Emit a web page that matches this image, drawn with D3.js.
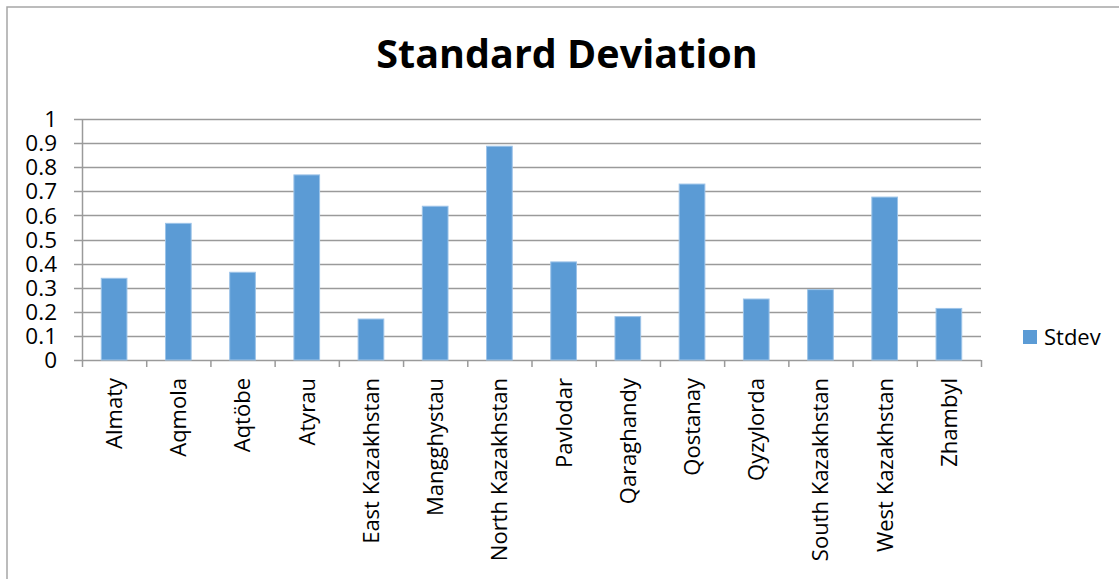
<!DOCTYPE html>
<html>
<head>
<meta charset="utf-8">
<script src="https://cdn.jsdelivr.net/npm/d3@7"></script>
<style>
  html, body { margin: 0; padding: 0; background: #fff; }
  svg { display: block; }
  text { font-family: "Open Sans", Lato, sans-serif; fill: #000; }
</style>
</head>
<body>
<svg id="chart" width="1119" height="579"></svg>
<script>
const categories = ["Almaty", "Aqmola", "Aqtöbe", "Atyrau", "East Kazakhstan", "Mangghystau",
  "North Kazakhstan", "Pavlodar", "Qaraghandy", "Qostanay", "Qyzylorda", "South Kazakhstan",
  "West Kazakhstan", "Zhambyl"];
const stdev = [0.339, 0.567, 0.364, 0.768, 0.170, 0.638, 0.887, 0.407, 0.180, 0.730, 0.253, 0.292, 0.676, 0.214];
const yTicks = [0, 0.1, 0.2, 0.3, 0.4, 0.5, 0.6, 0.7, 0.8, 0.9, 1];
const seriesName = "Stdev";
const title = "Standard Deviation";

const svg = d3.select("#chart");

// chart frame
svg.append("rect")
  .attr("x", 7).attr("y", 7).attr("width", 1130).attr("height", 600)
  .attr("fill", "none").attr("stroke", "#a6a6a6").attr("stroke-width", 1.5);

const plot = { left: 82, right: 981, top: 119, bottom: 360 };

const x = d3.scaleBand().domain(categories)
  .range([plot.left, plot.right]).paddingInner(0.6).paddingOuter(0.3);
const y = d3.scaleLinear().domain([0, 1]).range([plot.bottom, plot.top]);

// gridlines
svg.append("g").selectAll("line").data(yTicks).join("line")
  .attr("x1", plot.left - 8).attr("x2", plot.right)
  .attr("y1", d => Math.round(y(d)) + 0.5).attr("y2", d => Math.round(y(d)) + 0.5)
  .attr("stroke", "#9a9a9a").attr("stroke-width", 1.5);

// y axis line
svg.append("line")
  .attr("x1", plot.left + 0.5).attr("x2", plot.left + 0.5)
  .attr("y1", plot.top).attr("y2", plot.bottom)
  .attr("stroke", "#9a9a9a").attr("stroke-width", 1.5);

// y tick labels
svg.append("g").selectAll("text").data(yTicks).join("text")
  .attr("x", 57).attr("y", d => y(d))
  .attr("dy", "0.36em")
  .attr("text-anchor", "end")
  .attr("font-size", 22.5)
  .text(d => d3.format("~g")(d));

// x axis category tick marks
const step = x.step();
const bounds = d3.range(categories.length + 1).map(i => plot.left + i * step);
svg.append("g").selectAll("line").data(bounds).join("line")
  .attr("x1", d => d + 0.5).attr("x2", d => d + 0.5)
  .attr("y1", plot.bottom).attr("y2", plot.bottom + 7)
  .attr("stroke", "#9a9a9a").attr("stroke-width", 1.5);

// bars
svg.append("g").selectAll("rect").data(stdev).join("rect")
  .attr("x", (d, i) => x(categories[i]))
  .attr("width", x.bandwidth())
  .attr("y", d => y(d))
  .attr("height", d => y(0) - y(d))
  .attr("fill", "#5b9bd5")
  .attr("stroke", "#9cc3e8").attr("stroke-width", 1);

// x labels rotated
svg.append("g").selectAll("text").data(categories).join("text")
  .attr("transform", d => `translate(${x(d) + x.bandwidth() / 2},378) rotate(-90)`)
  .attr("dy", "0.36em")
  .attr("text-anchor", "end")
  .attr("font-size", 22)
  .text(d => d);

// title
svg.append("text")
  .attr("x", 567).attr("y", 68)
  .attr("text-anchor", "middle")
  .attr("font-size", 39.5).attr("font-weight", "bold")
  .text(title);

// legend
svg.append("rect")
  .attr("x", 1023).attr("y", 330).attr("width", 14).attr("height", 14)
  .attr("fill", "#5b9bd5");
svg.append("text")
  .attr("x", 1044).attr("y", 345)
  .attr("font-size", 22)
  .text(seriesName);
</script>
</body>
</html>
